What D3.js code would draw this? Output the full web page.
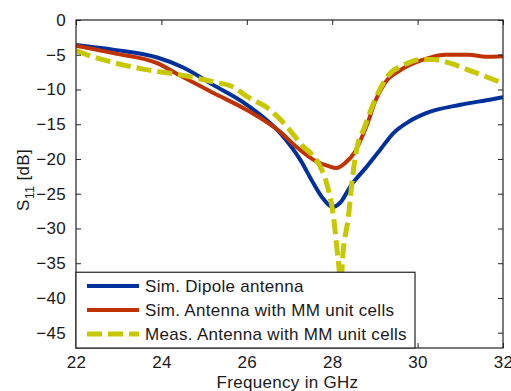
<!DOCTYPE html>
<html>
<head>
<meta charset="utf-8">
<script src="https://cdn.jsdelivr.net/npm/d3@7"></script>
<style>
  html, body { margin: 0; padding: 0; background: #fff; }
  svg text { font-family: "Liberation Sans", Arial, Helvetica, sans-serif; fill: #1a1a1a; letter-spacing: 0.3px; }
</style>
</head>
<body>
<svg id="chart" width="511" height="391"></svg>
<script>
// ---- Data ----
const xTicks = [22, 24, 26, 28, 30, 32];
const yTicks = [0, -5, -10, -15, -20, -25, -30, -35, -40, -45];

const dipoleFreq = [22.0, 22.9, 23.9, 24.5, 25.2, 26.0, 26.8, 27.25, 27.56, 27.8, 28.0, 28.2, 28.42, 28.81, 29.12, 29.43, 29.8, 30.2, 31.0, 31.75, 32.0];
const dipoleS11  = [-3.6, -4.3, -5.4, -6.8, -9.3, -12.2, -16.4, -20.1, -23.5, -25.8, -26.9, -26.2, -24.0, -21.1, -18.7, -16.3, -14.6, -13.4, -12.2, -11.4, -11.1];

const mmSimFreq = [22.0, 22.9, 23.9, 24.44, 25.22, 26.0, 26.78, 27.15, 27.64, 27.9, 28.1, 28.3, 28.53, 28.7, 28.85, 29.0, 29.24, 29.6, 30.0, 30.35, 30.65, 31.2, 31.6, 32.0];
const mmSimS11  = [-3.7, -4.8, -6.2, -8.0, -10.5, -12.95, -16.1, -18.2, -20.4, -21.0, -21.3, -20.6, -19.0, -16.8, -14.5, -11.8, -9.0, -7.2, -6.0, -5.3, -5.0, -5.0, -5.3, -5.2];

const mmMeasFreq = [22.0, 22.4, 22.8, 23.6, 24.44, 25.22, 25.7, 26.0, 26.47, 26.78, 27.0, 27.32, 27.56, 27.75, 27.87, 28.03, 28.14, 28.2, 28.26, 28.38, 28.46, 28.57, 28.76, 29.0, 29.31, 29.67, 30.06, 30.37, 30.76, 31.15, 31.62, 32.0];
const mmMeasS11  = [-4.4, -5.3, -6.0, -7.1, -7.9, -8.9, -9.7, -11.0, -12.6, -14.3, -15.8, -18.2, -19.6, -21.5, -23.5, -28.3, -34.5, -37.5, -33.1, -28.3, -23.5, -18.7, -15.4, -11.5, -8.0, -6.5, -5.7, -5.7, -6.2, -7.1, -8.2, -9.1];

const seriesNames = ["Sim. Dipole antenna", "Sim. Antenna with MM unit cells", "Meas. Antenna with MM unit cells"];
const seriesColors = ["#00309c", "#c03200", "#c8c800"];

// ---- Layout ----
const W = 511, H = 391;
const margin = { left: 76, right: 8, top: 20, bottom: 43 };
const iw = W - margin.left - margin.right;
const ih = H - margin.top - margin.bottom;
const fontSize = 17;

const svg = d3.select("#chart");
const g = svg.append("g").attr("transform", `translate(${margin.left},${margin.top})`);

const x = d3.scaleLinear().domain([22, 32]).range([0, iw]);
const y = d3.scaleLinear().domain([-47.2, 0]).range([ih, 0]);

g.append("defs").append("clipPath").attr("id", "clip")
  .append("rect").attr("x", 0).attr("y", 0).attr("width", iw).attr("height", ih);

const series = [
  { f: dipoleFreq, v: dipoleS11, dash: null, width: 4 },
  { f: mmSimFreq, v: mmSimS11, dash: null, width: 4 },
  { f: mmMeasFreq, v: mmMeasS11, dash: "15,6", width: 5 }
];

const line = d3.line().x(d => x(d[0])).y(d => y(d[1])).curve(d3.curveMonotoneX);

const plot = g.append("g").attr("clip-path", "url(#clip)");
series.forEach((s, i) => {
  const pts = s.f.map((f, k) => [f, s.v[k]]);
  plot.append("path")
    .datum(pts)
    .attr("d", line)
    .attr("fill", "none")
    .attr("stroke", seriesColors[i])
    .attr("stroke-width", s.width)
    .attr("stroke-linejoin", "round")
    .attr("stroke-dasharray", s.dash);
});

// ---- Axes (ticks inward, box) ----
const tickLen = 5;
const axB = g.append("g").attr("transform", `translate(0,${ih})`)
  .call(d3.axisBottom(x).tickValues(xTicks).tickSizeInner(-tickLen).tickSizeOuter(0).tickPadding(8).tickFormat(d3.format("d")));
const axT = g.append("g")
  .call(d3.axisTop(x).tickValues(xTicks).tickSizeInner(-tickLen).tickSizeOuter(0).tickFormat(""));
const axL = g.append("g")
  .call(d3.axisLeft(y).tickValues(yTicks).tickSizeInner(-tickLen).tickSizeOuter(0).tickPadding(10).tickFormat(d3.format("d")));
const axR = g.append("g").attr("transform", `translate(${iw},0)`)
  .call(d3.axisRight(y).tickValues(yTicks).tickSizeInner(-tickLen).tickSizeOuter(0).tickFormat(""));

[axB, axT, axL, axR].forEach(a => {
  a.select(".domain").remove();
  a.selectAll("line").attr("stroke", "#222").attr("stroke-width", 1);
  a.selectAll("text").attr("font-size", fontSize).attr("fill", "#1a1a1a");
});
axB.selectAll("text").attr("dy", "0.71em");

g.append("rect").attr("x", 0).attr("y", 0).attr("width", iw).attr("height", ih)
  .attr("fill", "none").attr("stroke", "#222").attr("stroke-width", 1.2);

// ---- Legend ----
const legend = g.append("g");
const lx0 = 0, ly0 = y(-36.3);
legend.append("rect")
  .attr("x", lx0).attr("y", ly0)
  .attr("width", 339).attr("height", ih - ly0)
  .attr("fill", "#fff").attr("stroke", "#222").attr("stroke-width", 1.2);
const rowY = [286, 310, 334].map(v => v - margin.top);
seriesNames.forEach((name, i) => {
  legend.append("line")
    .attr("x1", 11).attr("x2", 63)
    .attr("y1", rowY[i]).attr("y2", rowY[i])
    .attr("stroke", seriesColors[i])
    .attr("stroke-width", series[i].width)
    .attr("stroke-dasharray", series[i].dash);
  legend.append("text")
    .attr("x", 69).attr("y", rowY[i])
    .attr("dy", "0.36em")
    .attr("font-size", fontSize)
    .text(name);
});

// ---- Axis labels ----
svg.append("text")
  .attr("x", margin.left + iw / 2 - 2).attr("y", 388)
  .attr("text-anchor", "middle")
  .attr("font-size", fontSize)
  .text("Frequency in GHz");

const yl = svg.append("text")
  .attr("transform", `translate(29,180) rotate(-90)`)
  .attr("text-anchor", "middle")
  .attr("font-size", fontSize);
yl.append("tspan").text("S");
yl.append("tspan").attr("dy", 5).attr("font-size", fontSize * 0.75).text("11");
yl.append("tspan").attr("dy", -5).text(" [dB]");
</script>
</body>
</html>
